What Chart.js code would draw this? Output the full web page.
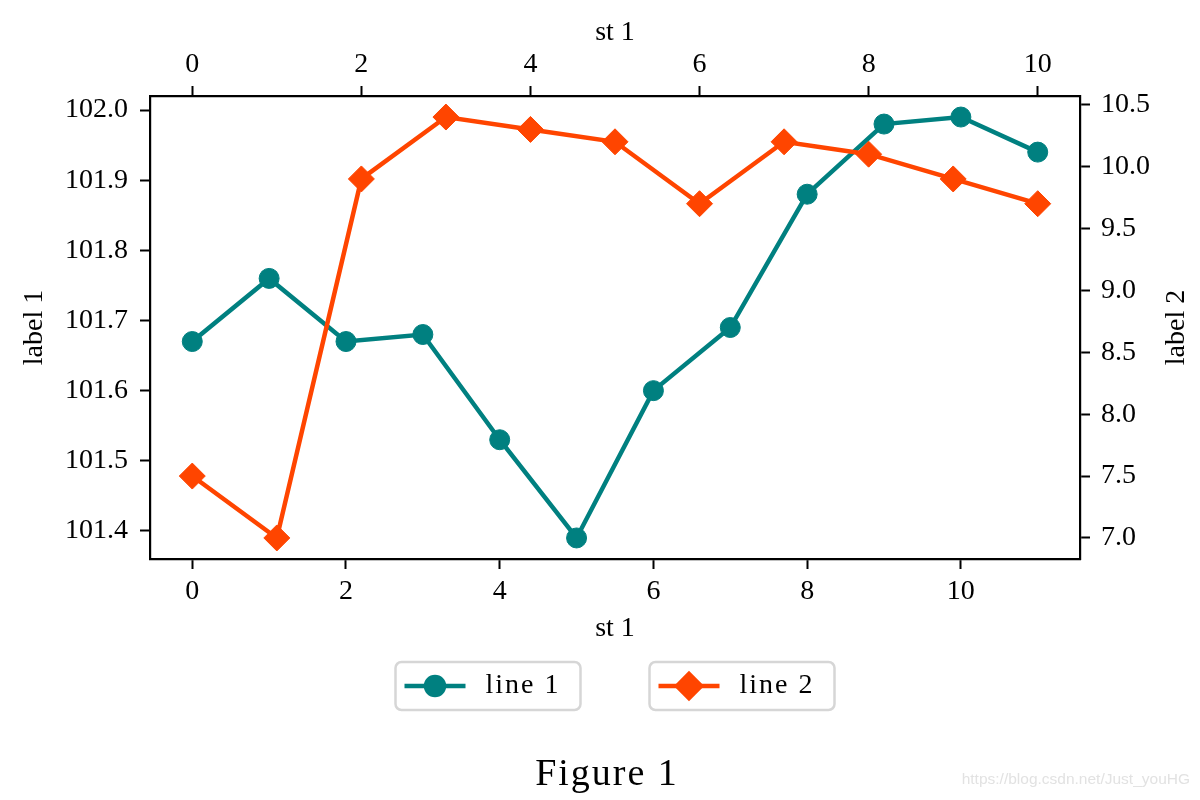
<!DOCTYPE html>
<html>
<head>
<meta charset="utf-8">
<title>Figure 1</title>
<script src="https://cdn.jsdelivr.net/npm/chart.js@4.4.0/dist/chart.umd.min.js"></script>
<style>
  html, body { margin: 0; padding: 0; background: #fff; }
  #wrap { width: 1200px; height: 800px; }
</style>
</head>
<body>
<div id="wrap"><canvas id="figure1" width="1200" height="800"></canvas></div>
<script>
// bottom axis steps + line 1 values (left axis)
const steps1 = [0, 1, 2, 3, 4, 5, 6, 7, 8, 9, 10, 11];
const line1Values = [101.67, 101.76, 101.67, 101.68, 101.53, 101.39, 101.60, 101.69, 101.88, 101.98, 101.99, 101.94];

// top axis steps + line 2 values (right axis)
const steps2 = [0, 1, 2, 3, 4, 5, 6, 7, 8, 9, 10];
const line2Values = [7.5, 7.0, 9.9, 10.4, 10.3, 10.2, 9.7, 10.2, 10.1, 9.9, 9.7];

const seriesNames = ["line 1", "line 2"];
const xTickLabels = [0, 2, 4, 6, 8, 10];
const leftTickLabels = [101.4, 101.5, 101.6, 101.7, 101.8, 101.9, 102.0];
const rightTickLabels = [7.0, 7.5, 8.0, 8.5, 9.0, 9.5, 10.0, 10.5];

const xTitle = "st 1";
const leftTitle = "label 1";
const rightTitle = "label 2";
const figureTitle = "Figure 1";
const watermark = "https://blog.csdn.net/Just_youHG";

const FONT = "'Liberation Serif', 'DejaVu Serif', serif";
const TEAL = "#008080";
const ORANGERED = "#ff4500";

// 5% margin on each side, like matplotlib autoscale
function padRange(values) {
  const lo = Math.min(...values);
  const hi = Math.max(...values);
  const m = (hi - lo) * 0.05;
  return { min: lo - m, max: hi + m };
}

function axisStyle(extra) {
  return Object.assign({
    grid: {
      display: true,
      drawOnChartArea: false,
      drawTicks: true,
      tickLength: 10,
      tickWidth: 2,
      tickColor: "#000",
    },
    border: { display: true, color: "#000", width: 2.2 },
  }, extra);
}

const extras = {
  id: "figureExtras",
  afterDraw(chart) {
    const ctx = chart.ctx;
    const area = chart.chartArea;
    ctx.save();

    // right axis title, reading bottom to top
    ctx.fillStyle = "#000";
    ctx.font = "28px " + FONT;
    ctx.textAlign = "center";
    ctx.textBaseline = "middle";
    ctx.save();
    ctx.translate(1177, (area.top + area.bottom) / 2);
    ctx.rotate(-Math.PI / 2);
    ctx.fillText(rightTitle, 0, 0);
    ctx.restore();

    // two separate legend boxes under the axes
    const cx = (area.left + area.right) / 2;
    const boxW = 185, boxH = 48, gap = 69;
    const top = area.bottom + 103;
    const lefts = [cx - gap / 2 - boxW, cx + gap / 2];
    chart.data.datasets.forEach((ds, i) => {
      const left = lefts[i];
      const midY = top + boxH / 2;
      ctx.beginPath();
      ctx.roundRect(left, top, boxW, boxH, 6);
      ctx.fillStyle = "#fff";
      ctx.fill();
      ctx.strokeStyle = "#d6d6d6";
      ctx.lineWidth = 2.5;
      ctx.stroke();

      ctx.beginPath();
      ctx.moveTo(left + 9, midY);
      ctx.lineTo(left + 70, midY);
      ctx.strokeStyle = ds.borderColor;
      ctx.lineWidth = ds.borderWidth;
      ctx.stroke();

      ctx.fillStyle = ds.backgroundColor;
      ctx.strokeStyle = ds.borderColor;
      Chart.helpers.drawPoint(ctx, {
        pointStyle: ds.pointStyle,
        radius: ds.pointRadius - 1,
        rotation: 0,
        borderWidth: 1,
      }, left + 39.5, midY);

      ctx.fillStyle = "#000";
      ctx.font = "28px " + FONT;
      ctx.letterSpacing = "2px";
      ctx.textAlign = "left";
      ctx.textBaseline = "middle";
      ctx.fillText(ds.label, left + 90, midY);
      ctx.letterSpacing = "0px";
    });

    // figure caption
    ctx.fillStyle = "#000";
    ctx.font = "38px " + FONT;
    ctx.letterSpacing = "2px";
    ctx.textAlign = "center";
    ctx.textBaseline = "middle";
    ctx.fillText(figureTitle, 607, 775);
    ctx.letterSpacing = "0px";

    // watermark
    ctx.fillStyle = "#e2e2e2";
    ctx.font = "15.5px 'Liberation Sans', sans-serif";
    ctx.textAlign = "right";
    ctx.fillText(watermark, 1190, 780);

    ctx.restore();
  },
};

Chart.defaults.font.family = FONT;
Chart.defaults.color = "#000";

const r1 = padRange(steps1);
const r2 = padRange(steps2);
const ry1 = padRange(line1Values);
const ry2 = padRange(line2Values);

new Chart(document.getElementById("figure1"), {
  type: "line",
  data: {
    datasets: [
      {
        label: seriesNames[0],
        data: steps1.map((s, i) => ({ x: s, y: line1Values[i] })),
        xAxisID: "x",
        yAxisID: "y",
        borderColor: TEAL,
        backgroundColor: TEAL,
        borderWidth: 4.5,
        pointStyle: "circle",
        pointRadius: 10,
        pointBorderWidth: 1,
        order: 1,
      },
      {
        label: seriesNames[1],
        data: steps2.map((s, i) => ({ x: s, y: line2Values[i] })),
        xAxisID: "x2",
        yAxisID: "y2",
        borderColor: ORANGERED,
        backgroundColor: ORANGERED,
        borderWidth: 4.5,
        pointStyle: "rectRot",
        pointRadius: 13,
        pointBorderWidth: 1,
        order: 0,
      },
    ],
  },
  options: {
    responsive: false,
    animation: false,
    events: [],
    layout: { padding: 0, autoPadding: false },
    plugins: {
      legend: { display: false },
      title: { display: false },
      tooltip: { enabled: false },
    },
    scales: {
      x: axisStyle({
        type: "linear",
        position: "bottom",
        min: r1.min,
        max: r1.max,
        afterBuildTicks: (s) => { s.ticks = xTickLabels.map((v) => ({ value: v })); },
        afterFit: (s) => { s.height = 241; },
        ticks: { font: { size: 28 }, padding: 6, maxRotation: 0 },
        title: { display: true, text: xTitle, font: { size: 28 }, padding: { top: 0, bottom: 155 } },
      }),
      x2: axisStyle({
        type: "linear",
        position: "top",
        min: r2.min,
        max: r2.max,
        afterBuildTicks: (s) => { s.ticks = xTickLabels.map((v) => ({ value: v })); },
        afterFit: (s) => { s.height = 96; },
        ticks: { font: { size: 28 }, padding: 5, maxRotation: 0 },
        title: { display: true, text: xTitle, font: { size: 28 }, padding: { top: 16, bottom: 0 } },
      }),
      y: axisStyle({
        type: "linear",
        position: "left",
        min: ry1.min,
        max: ry1.max,
        afterBuildTicks: (s) => { s.ticks = leftTickLabels.map((v) => ({ value: v })); },
        afterFit: (s) => { s.width = 150; },
        ticks: { font: { size: 28 }, padding: 12, callback: (v) => v.toFixed(1) },
        title: { display: true, text: leftTitle, font: { size: 28 }, padding: { top: 18, bottom: 0 } },
      }),
      y2: axisStyle({
        type: "linear",
        position: "right",
        min: ry2.min,
        max: ry2.max,
        afterBuildTicks: (s) => { s.ticks = rightTickLabels.map((v) => ({ value: v })); },
        afterFit: (s) => { s.width = 120; },
        ticks: { font: { size: 28 }, padding: 11, callback: (v) => v.toFixed(1) },
        title: { display: false },
      }),
    },
  },
  plugins: [extras],
});
</script>
</body>
</html>
